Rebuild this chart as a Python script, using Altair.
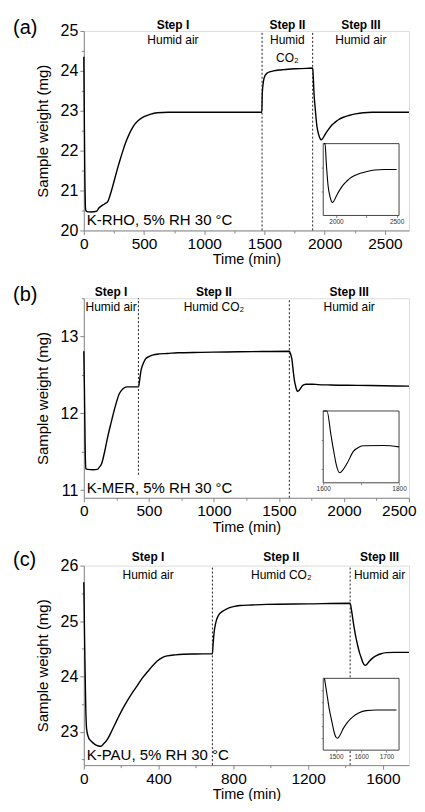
import altair as alt
import pandas as pd

FONT = "Liberation Sans"

# ---------------- (a) K-RHO ----------------
a_t = [0, 8, 15, 25, 60, 105, 125, 150, 175, 200, 225, 250, 275, 300, 325, 350, 375, 400, 425, 450,
       500, 550, 610, 700, 900, 1200, 1478, 1482, 1492, 1505, 1520, 1550, 1575, 1620, 1660, 1750, 1850,
       1900, 1905, 1910, 1920, 1935, 1950, 1962, 1970, 1980, 1995, 2010, 2033, 2060, 2090, 2117, 2150,
       2200, 2256, 2320, 2394, 2500, 2700]
a_w = [24.35, 21.5, 20.52, 20.47, 20.46, 20.48, 20.56, 20.62, 20.67, 20.73, 20.95, 21.22, 21.5, 21.76,
       22.0, 22.22, 22.4, 22.55, 22.67, 22.75, 22.85, 22.91, 22.95, 22.96, 22.96, 22.96, 22.96, 23.45,
       23.75, 23.88, 23.94, 23.98, 24.0, 24.02, 24.03, 24.05, 24.06, 24.07, 23.85, 23.5, 23.1, 22.62,
       22.4, 22.3, 22.27, 22.29, 22.36, 22.44, 22.54, 22.64, 22.72, 22.78, 22.83, 22.88, 22.92, 22.95,
       22.96, 22.96, 22.96]
a_xdom = [0, 2700]
a_ydom = [20, 25]
a_xticks = [0, 250, 500, 750, 1000, 1250, 1500, 1750, 2000, 2250, 2500]
a_xmajor = 500
a_yticks = [20, 20.5, 21, 21.5, 22, 22.5, 23, 23.5, 24, 24.5, 25]
a_ymajor = 1
a_bounds = [0, 1480, 1900, 2700]
a_conds = ["Humid air", "Humid\nCO₂", "Humid air"]
a_vlines = [1480, 1900]
a_vline_bottom = [20, 20]
a_anno = "K-RHO, 5% RH 30 °C"
a_ixdom = [1895, 2520]
a_iydom = [22.0, 23.5]
a_ixticks = [2000, 2250, 2500]
a_ixmajor = 500
a_iyticks = [22.5, 23.0]

# ---------------- (b) K-MER ----------------
b_t = [0, 5, 10, 15, 30, 70, 105, 120, 136, 160, 182, 207, 232, 250, 271, 290, 309, 333, 380, 420,
       424, 432, 440, 450, 462, 475, 500, 527, 580, 642, 720, 900, 1100, 1300, 1580, 1590, 1600, 1610,
       1620, 1627, 1635, 1643, 1652, 1663, 1680, 1695, 1707, 1760, 1800, 1900, 2100, 2300, 2500]
b_w = [12.81, 12.3, 11.6, 11.28, 11.27, 11.265, 11.27, 11.3, 11.34, 11.5, 11.68, 11.86, 12.03, 12.14,
       12.25, 12.3, 12.33, 12.345, 12.345, 12.345, 12.37, 12.47, 12.56, 12.62, 12.67, 12.71, 12.74,
       12.76, 12.775, 12.78, 12.79, 12.795, 12.8, 12.805, 12.81, 12.77, 12.7, 12.55, 12.42, 12.365,
       12.31, 12.285, 12.295, 12.318, 12.36, 12.375, 12.379, 12.38, 12.375, 12.37, 12.365, 12.36, 12.355]
b_xdom = [0, 2500]
b_ydom = [10.9, 13.5]
b_xticks = [0, 250, 500, 750, 1000, 1250, 1500, 1750, 2000, 2250, 2500]
b_xmajor = 500
b_yticks = [11, 11.5, 12, 12.5, 13, 13.5]
b_ymajor = 1
b_bounds = [0, 420, 1580, 2500]
b_conds = ["Humid air", "Humid CO₂", "Humid air"]
b_vlines = [420, 1580]
b_vline_bottom = [11.2, 10.9]
b_anno = "K-MER, 5% RH 30 °C"
b_ixdom = [1600, 1800]
b_iydom = [12.25, 12.5]
b_ixticks = [1600, 1700, 1800]
b_ixmajor = 200
b_iyticks = [12.3, 12.4]

# ---------------- (c) K-PAU ----------------
c_t = [0, 5, 10, 15, 25, 40, 57, 75, 92, 105, 127, 150, 180, 207, 234, 260, 287, 313, 340, 367,
       393, 420, 446, 490, 534, 600, 688, 691, 694, 698, 703, 710, 720, 740, 765, 800, 835, 900, 977,
       1200, 1425, 1432, 1440, 1448, 1455, 1466, 1475, 1483, 1492, 1500, 1507, 1515, 1529, 1545, 1568,
       1590, 1620, 1660, 1740]
c_w = [25.7, 24.5, 23.5, 23.05, 22.9, 22.83, 22.78, 22.75, 22.74, 22.78, 22.87, 23.02, 23.23, 23.41,
       23.57, 23.71, 23.84, 23.97, 24.08, 24.19, 24.28, 24.34, 24.37, 24.39, 24.4, 24.405, 24.41, 24.55,
       24.68, 24.82, 24.92, 25.02, 25.1, 25.17, 25.22, 25.26, 25.28, 25.29, 25.3, 25.31, 25.32, 25.2,
       25.02, 24.85, 24.72, 24.55, 24.43, 24.35, 24.26, 24.21, 24.2, 24.22, 24.28, 24.33, 24.38, 24.41,
       24.43, 24.435, 24.435]
c_xdom = [0, 1740]
c_ydom = [22.4, 26]
c_xticks = [0, 200, 400, 600, 800, 1000, 1200, 1400, 1600]
c_xmajor = 400
c_yticks = [22.5, 23, 23.5, 24, 24.5, 25, 25.5, 26]
c_ymajor = 1
c_bounds = [0, 688, 1425, 1740]
c_conds = ["Humid air", "Humid CO₂", "Humid air"]
c_vlines = [688, 1425]
c_vline_bottom = [22.4, 22.4]
c_anno = "K-PAU, 5% RH 30 °C"
c_ixdom = [1450, 1750]
c_iydom = [24.1, 24.7]
c_ixticks = [1500, 1600, 1700]
c_ixmajor = 100
c_iyticks = [24.2, 24.3, 24.4, 24.5, 24.6]

step_names = ["Step I", "Step II", "Step III"]

W, H = 326, 200
INSET_X = [240, 316]
INSET_Y = [185, 113]


def is_major(step):
    return f"abs(datum.value / {step} - round(datum.value / {step})) < 0.001"


def build(tag, t, w, xdom, ydom, xticks, xmajor, yticks, ymajor, bounds, conds, vlines, vbottom,
          anno, ixdom, iydom, ixticks, ixmajor, iyticks, step_y, tag_y):
    df = pd.DataFrame({"t": t, "w": w})
    xs = alt.Scale(domain=xdom, nice=False, zero=False)
    ys = alt.Scale(domain=ydom, nice=False, zero=False)
    at_end = f"datum.value >= {xdom[1]}"
    xaxis = alt.Axis(values=xticks,
                     labelExpr=f"{is_major(xmajor)} ? format(datum.value, 'd') : ''",
                     tickSize={"condition": {"test": is_major(xmajor), "value": 4}, "value": 2.5},
                     labelAlign={"condition": {"test": at_end, "value": "right"}, "value": "center"},
                     labelOffset={"condition": {"test": at_end, "value": 7}, "value": 0},
                     labelFontSize=15.5, labelPadding=2, titleFontSize=14.5, titlePadding=1,
                     titleFontWeight="normal", labelFlush=False, labelOverlap=False, grid=False)
    yaxis = alt.Axis(values=yticks,
                     labelExpr=f"{is_major(ymajor)} ? format(datum.value, 'd') : ''",
                     tickSize={"condition": {"test": is_major(ymajor), "value": 4}, "value": 2.5},
                     labelFontSize=16, labelPadding=2, titleFontSize=15, titlePadding=10,
                     titleFontWeight="normal", labelFlush=False, labelOverlap=False, grid=False)

    def X():
        return alt.X("t:Q", scale=xs, axis=xaxis, title="Time (min)")

    def Y():
        return alt.Y("w:Q", scale=ys, axis=yaxis, title="Sample weight (mg)")

    line = alt.Chart(df).mark_line(color="black", strokeWidth=1.4, interpolate="monotone").encode(x=X(), y=Y())

    rules_df = pd.DataFrame({"t": vlines, "w": vbottom, "w2": [ydom[1]] * len(vlines)})
    rules = alt.Chart(rules_df).mark_rule(color="#222", strokeWidth=1, strokeDash=[2, 2]).encode(
        x=X(), y=Y(), y2="w2:Q")

    centers = [(bounds[i] + bounds[i + 1]) / 2 for i in range(3)]
    steps_df = pd.DataFrame({"t": centers, "label": step_names, "cond": conds})
    step_txt = alt.Chart(steps_df).mark_text(font=FONT, fontSize=12, fontWeight="bold",
                                             baseline="alphabetic", color="black").encode(
        x=X(), y=alt.value(step_y), text="label:N")
    cond_txt = alt.Chart(steps_df).mark_text(font=FONT, fontSize=12, baseline="alphabetic",
                                             lineBreak="\n", lineHeight=18.5, color="black").encode(
        x=X(), y=alt.value(13), text="cond:N")

    tag_txt = alt.Chart(pd.DataFrame({"s": [tag]})).mark_text(
        font=FONT, fontSize=20, align="left", baseline="alphabetic", color="black").encode(
        x=alt.value(-71), y=alt.value(tag_y), text="s:N")
    anno_txt = alt.Chart(pd.DataFrame({"s": [anno]})).mark_text(
        font=FONT, fontSize=15, align="left", baseline="alphabetic", color="black").encode(
        x=alt.value(3), y=alt.value(195), text="s:N")

    main = alt.layer(line, rules, step_txt, cond_txt, tag_txt, anno_txt)

    # inset
    ixs = alt.Scale(domain=ixdom, range=INSET_X, clamp=True, nice=False, zero=False)
    iys = alt.Scale(domain=iydom, range=INSET_Y, clamp=True, nice=False, zero=False)
    ixaxis = alt.Axis(orient="bottom", offset=INSET_Y[0] - H, values=ixticks,
                      labelExpr=f"{is_major(ixmajor)} ? format(datum.value, 'd') : ''",
                      tickSize=2, labelFontSize=6.5, labelPadding=1, labelColor="#333",
                      domain=False, labelFlush=False, labelOverlap=False, grid=False, title=None)
    iyaxis = alt.Axis(orient="left", offset=-INSET_X[0], values=iyticks, labels=False,
                      tickSize=2, domain=False, grid=False, title=None)
    frame_df = pd.DataFrame({"t": [ixdom[0]], "t2": [ixdom[1]], "w": [iydom[0]], "w2": [iydom[1]]})
    frame = alt.Chart(frame_df).mark_rect(fill="white", stroke="#444", strokeWidth=1).encode(
        x=alt.X("t:Q", scale=ixs, axis=ixaxis), x2="t2:Q",
        y=alt.Y("w:Q", scale=iys, axis=iyaxis), y2="w2:Q")
    iline = alt.Chart(df).transform_filter(
        f"datum.t >= {ixdom[0]} && datum.t <= {ixdom[1]}").mark_line(
        color="black", strokeWidth=1.1, interpolate="monotone").encode(
        x=alt.X("t:Q", scale=ixs, axis=ixaxis), y=alt.Y("w:Q", scale=iys, axis=iyaxis))
    inset = alt.layer(frame, iline)

    return alt.layer(main, inset).resolve_scale(x="independent", y="independent").properties(
        width=W, height=H)


pa = build("(a)", a_t, a_w, a_xdom, a_ydom, a_xticks, a_xmajor, a_yticks, a_ymajor, a_bounds, a_conds,
           a_vlines, a_vline_bottom, a_anno, a_ixdom, a_iydom, a_ixticks, a_ixmajor, a_iyticks, -2, 3)
pb = build("(b)", b_t, b_w, b_xdom, b_ydom, b_xticks, b_xmajor, b_yticks, b_ymajor, b_bounds, b_conds,
           b_vlines, b_vline_bottom, b_anno, b_ixdom, b_iydom, b_ixticks, b_ixmajor, b_iyticks, -2, 3)
pc = build("(c)", c_t, c_w, c_xdom, c_ydom, c_xticks, c_xmajor, c_yticks, c_ymajor, c_bounds, c_conds,
           c_vlines, c_vline_bottom, c_anno, c_ixdom, c_iydom, c_ixticks, c_ixmajor, c_iyticks, -5, 0)

chart = alt.vconcat(pa, pb, pc, spacing=68, bounds="flush").properties(
    padding={"left": 4, "top": 8, "right": 0, "bottom": -2}
).configure_view(stroke="black", strokeWidth=1).configure_axis(
    domainColor="black", tickColor="black", labelColor="black", titleColor="black",
    labelFont=FONT, titleFont=FONT, titleFontWeight="normal"
).configure(background="white")

chart.save("out.html", embed_options={"renderer": "svg", "actions": False})
